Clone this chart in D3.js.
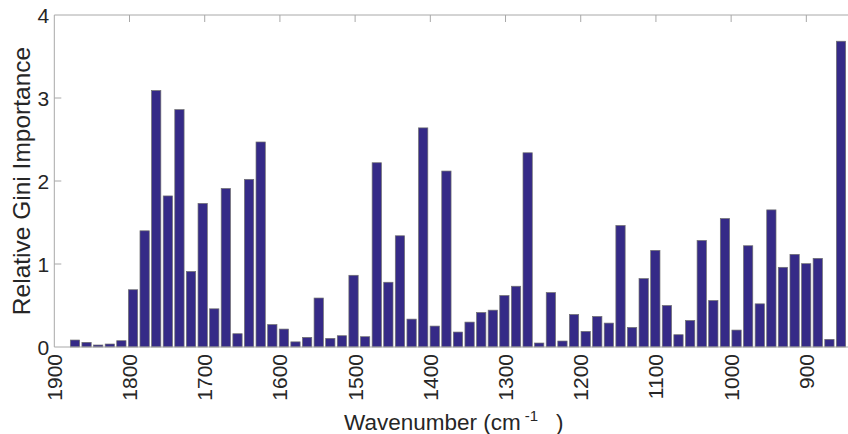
<!DOCTYPE html>
<html>
<head>
<meta charset="utf-8">
<script src="https://cdn.jsdelivr.net/npm/d3@7"></script>
<style>
html,body{margin:0;padding:0;background:#fff;}
svg{display:block;}
text{font-family:"Liberation Sans",Arial,Helvetica,sans-serif;fill:#262626;}
</style>
</head>
<body>
<svg id="chart" width="848" height="434"></svg>
<script>
const wavenumbers = [1872.5,1857.1,1841.6,1826.2,1810.8,1795.3,1779.9,1764.5,1749.0,1733.6,
1718.2,1702.7,1687.3,1671.9,1656.4,1641.0,1625.6,1610.1,1594.7,1579.3,
1563.8,1548.4,1533.0,1517.5,1502.1,1486.7,1471.2,1455.8,1440.4,1424.9,
1409.5,1394.1,1378.6,1363.2,1347.8,1332.3,1316.9,1301.5,1286.0,1270.6,
1255.2,1239.7,1224.3,1208.9,1193.4,1178.0,1162.6,1147.1,1131.7,1116.3,
1100.8,1085.4,1070.0,1054.5,1039.1,1023.7,1008.2,992.8,977.4,961.9,
946.5,931.1,915.6,900.2,884.8,869.3,853.9];
const importance = [0.084,0.056,0.024,0.036,0.076,0.69,1.40,3.09,1.82,2.86,
0.91,1.73,0.46,1.91,0.16,2.02,2.47,0.27,0.216,0.062,
0.116,0.59,0.104,0.136,0.864,0.124,2.22,0.78,1.34,0.336,
2.64,0.252,2.12,0.18,0.30,0.416,0.444,0.62,0.732,2.34,
0.048,0.656,0.072,0.392,0.188,0.368,0.288,1.464,0.236,0.824,
1.164,0.50,0.148,0.32,1.284,0.56,1.548,0.204,1.22,0.52,
1.652,0.96,1.116,1.004,1.068,0.092,3.684];
const xTicks = [1900,1800,1700,1600,1500,1400,1300,1200,1100,1000,900];
const yTicks = [0,1,2,3,4];
const binWidth = 15.43;

const svg = d3.select("#chart");
const mLeft = 54.3, mRight = 847.7, mTop = 15, mBottom = 347;
const x = d3.scaleLinear().domain([1900, 845]).range([mLeft, mRight]);
const y = d3.scaleLinear().domain([0, 4]).range([mBottom, mTop]);
const axisColor = "#a8a8a8";
const barW = Math.abs(x(0) - x(binWidth * 0.8));

// bars
svg.append("g").selectAll("rect").data(wavenumbers).join("rect")
  .attr("x", d => x(d) - barW/2)
  .attr("width", barW)
  .attr("y", (d,i) => y(importance[i]))
  .attr("height", (d,i) => y(0) - y(importance[i]))
  .attr("fill", "#352a87")
  .attr("stroke", "#707070")
  .attr("stroke-width", 0.7);

// box lines
svg.append("line").attr("x1", mLeft).attr("x2", 848).attr("y1", mTop).attr("y2", mTop)
  .attr("stroke", axisColor).attr("stroke-width", 1);
svg.append("line").attr("x1", mLeft).attr("x2", mLeft).attr("y1", mTop).attr("y2", mBottom)
  .attr("stroke", axisColor).attr("stroke-width", 1);
svg.append("line").attr("x1", mLeft).attr("x2", 848).attr("y1", mBottom).attr("y2", mBottom)
  .attr("stroke", axisColor).attr("stroke-width", 1);

// x ticks at top (pointing down)
svg.append("g").selectAll("line").data(xTicks.slice(1)).join("line")
  .attr("x1", d => x(d)).attr("x2", d => x(d))
  .attr("y1", mTop).attr("y2", mTop + 7)
  .attr("stroke", axisColor).attr("stroke-width", 1);

// y ticks at left (pointing right)
svg.append("g").selectAll("line").data(yTicks.slice(1, 4)).join("line")
  .attr("x1", mLeft).attr("x2", mLeft + 7)
  .attr("y1", d => y(d)).attr("y2", d => y(d))
  .attr("stroke", axisColor).attr("stroke-width", 1);

// x tick labels (rotated)
svg.append("g").selectAll("text").data(xTicks).join("text")
  .attr("transform", d => `translate(${x(d)},${mBottom + 7}) rotate(-90)`)
  .attr("text-anchor", "end")
  .attr("dominant-baseline", "central")
  .attr("font-size", 21)
  .text(d => d);

// y tick labels
svg.append("g").selectAll("text").data(yTicks).join("text")
  .attr("x", mLeft - 5)
  .attr("y", d => y(d))
  .attr("text-anchor", "end")
  .attr("dominant-baseline", "central")
  .attr("font-size", 21)
  .text(d => d);

// y axis label
svg.append("text")
  .attr("transform", `translate(30,181) rotate(-90)`)
  .attr("text-anchor", "middle")
  .attr("font-size", 24.5)
  .text("Relative Gini Importance");

// x axis label
const xl = svg.append("text")
  .attr("x", 344).attr("y", 430)
  .attr("font-size", 22.5);
xl.append("tspan").text("Wavenumber (cm");
xl.append("tspan").attr("font-size", 15).attr("dy", -9).attr("dx", 4).text("-1");
xl.append("tspan").attr("dy", 9).attr("dx", 18).text(")");
</script>
</body>
</html>
